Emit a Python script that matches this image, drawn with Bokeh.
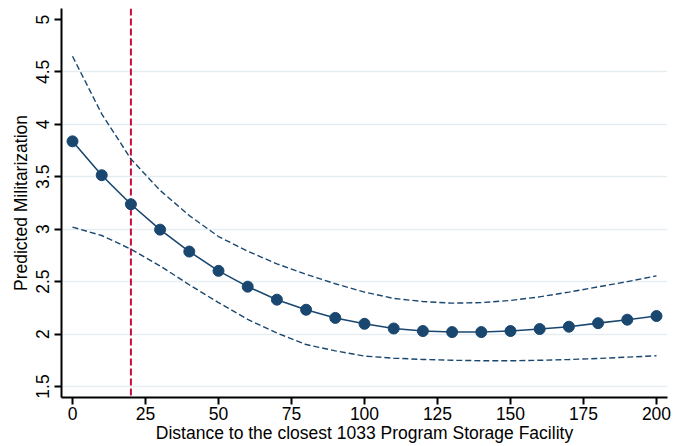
from bokeh.plotting import figure
from bokeh.models import Range1d, FixedTicker, Span, ColumnDataSource
from bokeh.embed import file_html
from bokeh.resources import INLINE

# ---- data ----
distance = [0, 10, 20, 30, 40, 50, 60, 70, 80, 90, 100,
            110, 120, 130, 140, 150, 160, 170, 180, 190, 200]
predicted = [3.838, 3.515, 3.238, 2.996, 2.787, 2.603, 2.452, 2.328, 2.232, 2.154, 2.098,
             2.053, 2.029, 2.019, 2.019, 2.029, 2.048, 2.070, 2.104, 2.137, 2.172]
ci_upper = [4.65, 4.10, 3.67, 3.37, 3.13, 2.93, 2.79, 2.67, 2.57, 2.48, 2.40,
            2.34, 2.31, 2.295, 2.30, 2.32, 2.355, 2.40, 2.45, 2.50, 2.555]
ci_lower = [3.02, 2.94, 2.81, 2.65, 2.47, 2.30, 2.14, 2.01, 1.90, 1.84, 1.79,
            1.77, 1.758, 1.75, 1.746, 1.745, 1.75, 1.757, 1.767, 1.78, 1.793]
x_ticks = [0, 25, 50, 75, 100, 125, 150, 175, 200]
y_ticks = [1.5, 2, 2.5, 3, 3.5, 4, 4.5, 5]
grid_values = [1.5, 2, 2.5, 3, 3.5, 4, 4.5]
reference_distance = 20
x_title = "Distance to the closest 1033 Program Storage Facility"
y_title = "Predicted Militarization"

NAVY = "#1a476f"
RED = "#c40e3d"
FONT = "Liberation Sans"
FS = "17.5px"

src = ColumnDataSource(dict(x=distance, y=predicted, lo=ci_lower, hi=ci_upper))

p = figure(frame_width=606, frame_height=389,
           min_border_left=61, min_border_right=11, min_border_top=8, min_border_bottom=48,
           x_range=Range1d(-3.77, 203.77), y_range=Range1d(1.395, 5.105),
           output_backend="svg", toolbar_location=None, tools="")
p.outline_line_color = None
p.background_fill_color = "white"
p.border_fill_color = "white"

# grid
p.xgrid.visible = False
p.ygrid.ticker = FixedTicker(ticks=grid_values)
p.ygrid.grid_line_color = "#e6edf1"
p.ygrid.grid_line_width = 1.5

# axes
for ax in (p.xaxis[0], p.yaxis[0]):
    ax.axis_line_color = "black"
    ax.axis_line_width = 2
    ax.major_tick_line_color = "black"
    ax.major_tick_line_width = 2
    ax.major_tick_out = 7
    ax.major_tick_in = 0
    ax.minor_tick_line_color = None
    ax.major_label_text_font = FONT
    ax.major_label_text_font_size = FS
    ax.major_label_text_color = "black"
    ax.axis_label_text_font = FONT
    ax.axis_label_text_font_size = FS
    ax.axis_label_text_font_style = "normal"
    ax.axis_label_text_color = "black"

p.xaxis.ticker = FixedTicker(ticks=x_ticks)
p.yaxis.ticker = FixedTicker(ticks=y_ticks)
p.xaxis.axis_label = x_title
p.yaxis.axis_label = y_title
p.xaxis.major_label_standoff = 2
p.xaxis.axis_label_standoff = 0
p.yaxis.major_label_orientation = "parallel"
p.yaxis.major_label_standoff = 5
p.yaxis.axis_label_standoff = 3

# reference line
vline = Span(location=reference_distance, dimension="height", line_color=RED,
             line_width=2, line_dash="7 3", level="underlay")
p.add_layout(vline)

# confidence bounds
p.line("x", "hi", source=src, line_color=NAVY, line_width=1.4, line_dash="6 3")
p.line("x", "lo", source=src, line_color=NAVY, line_width=1.4, line_dash="6 3")

# predictions
p.line("x", "y", source=src, line_color=NAVY, line_width=1.6)
p.scatter("x", "y", source=src, size=11, fill_color=NAVY, line_color=NAVY)

open("out.html", "w").write(file_html(p, INLINE))
